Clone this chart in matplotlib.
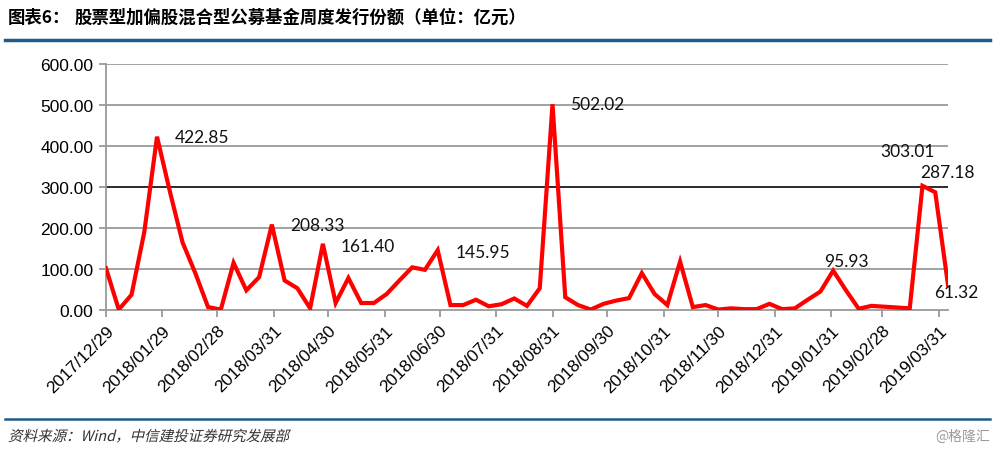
import matplotlib
matplotlib.use("Agg")
import matplotlib.pyplot as plt
import matplotlib.dates as mdates
from matplotlib.textpath import TextPath
from matplotlib.patches import PathPatch
from matplotlib.font_manager import FontProperties
from matplotlib.transforms import Affine2D
import pandas as pd

# weekly issue volume (100m shares), Fridays from 2017/12/29
start = "2017-12-29"
values = [102, 1, 37, 190, 422.85, 290, 165, 90, 7, 1,
          115, 48, 80, 208.33, 72, 53, 4, 161.40, 17, 78,
          17, 17, 39, 72, 104, 98, 145.95, 12, 12, 25,
          9, 14, 28, 10, 53, 502.02, 31, 12, 1, 15,
          23, 29, 90, 39, 12, 118, 7, 12, 1, 4,
          2, 2, 15, 2, 4, 25, 45, 95.93, 48, 3,
          10, 8, 6, 4, 303.01, 287.18, 61.32]
dates = pd.date_range(start, periods=len(values), freq="7D")

tick_labels = ["2017/12/29", "2018/01/29", "2018/02/28", "2018/03/31", "2018/04/30",
               "2018/05/31", "2018/06/30", "2018/07/31", "2018/08/31", "2018/09/30",
               "2018/10/31", "2018/11/30", "2018/12/31", "2019/01/31", "2019/02/28",
               "2019/03/31"]
yticks = [0, 100, 200, 300, 400, 500, 600]

# labelled points: index -> (dx, dy pixels, ha)
labelled = {4: (18, 0, "left"), 13: (18, 0, "left"), 17: (18, -2, "left"),
            26: (18, -2, "left"), 35: (18, 0, "left"), 57: (13, 10, "center"),
            64: (-15, 35, "center"), 65: (12, 20, "center"), 66: (8, -7, "center")}

cjk = ["Noto Sans CJK SC", "DejaVu Sans"]

fig = plt.figure(figsize=(10, 4.52), dpi=100)
ax = fig.add_axes([0.106, 0.312, 0.842, 0.544])

ax.plot(dates, values, color="#FF0000", lw=3, solid_joinstyle="miter", zorder=3)

ax.set_ylim(0, 600)
ax.set_yticks(yticks)
ax.set_yticklabels([f"{v:.2f}" for v in yticks], family="Liberation Sans", fontsize=12.5)
for v in yticks[1:]:
    ax.axhline(v, color="#1a1a1a" if v == 300 else "#9a9a9a", lw=1.3, zorder=1)

tick_dates = pd.to_datetime(tick_labels, format="%Y/%m/%d")
ax.set_xlim(dates[0], dates[-1])
ax.set_xticks(tick_dates)
ax.set_xticklabels(tick_labels, rotation=45, ha="right", rotation_mode="anchor",
                   family="Liberation Sans", fontsize=12.5)
ax.tick_params(axis="x", length=5, color="#9a9a9a", width=1.3, pad=4)
ax.tick_params(axis="y", length=5, color="#9a9a9a", width=1.3, pad=4)

for s in ["top", "right"]:
    ax.spines[s].set_visible(False)
for s in ["left", "bottom"]:
    ax.spines[s].set_color("#9a9a9a")
    ax.spines[s].set_linewidth(1.3)

for i, (dx, dy, ha) in labelled.items():
    ax.annotate(f"{values[i]:.2f}", (dates[i], values[i]), xytext=(dx, dy),
                textcoords="offset pixels", ha=ha, va="center",
                family="Lato", fontsize=12.5, color="#111111", zorder=4)

# title and rules
fig.text(0.008, 1 - 18 / 452, "图表6：", family=cjk, fontsize=12.5, weight="bold", va="center")
fig.text(0.075, 1 - 18 / 452, "股票型加偏股混合型公募基金周度发行份额（单位：亿元）",
         family=cjk, fontsize=12.5, weight="bold", va="center")
fig.add_artist(plt.Line2D([0.005, 0.99], [1 - 41 / 452] * 2, color="#1F5C8B", lw=2.5))
fig.add_artist(plt.Line2D([0.005, 0.99], [1 - 420 / 452] * 2, color="#1F5C8B", lw=1.8))

# italic source note (CJK font has no italic, so shear the glyph outlines)
src = TextPath((0, 0), "资料来源：Wind，中信建投证券研究发展部", size=14.5,
               prop=FontProperties(family="Noto Sans CJK SC"))
fig.add_artist(PathPatch(src, transform=Affine2D().skew_deg(14, 0).translate(8, 10),
                         facecolor="#333333", lw=0))
fig.text(0.99, 1 - 437 / 452, "@格隆汇", family=cjk, fontsize=10, color="#9a9a9a",
         ha="right", va="center")

fig.savefig("out.png", dpi=100)
